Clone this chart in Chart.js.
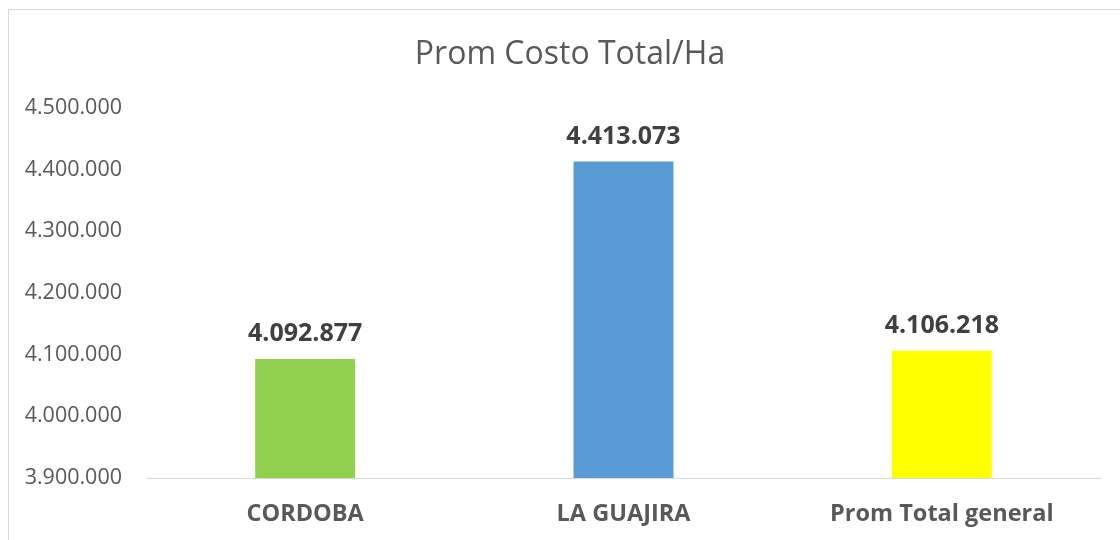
<!DOCTYPE html>
<html>
<head>
<meta charset="utf-8">
<script src="https://cdn.jsdelivr.net/npm/chart.js@4/dist/chart.umd.min.js"></script>
<style>
  html, body { margin: 0; padding: 0; background: #fff; overflow: hidden; }
  .frame { position: absolute; left: 8px; top: 9px; width: 1200px; height: 600px; border: 1px solid #d9d9d9; }
  .wrap { position: absolute; left: 0; top: 0; width: 1120px; height: 540px; }
</style>
</head>
<body>
<div class="frame"></div>
<div class="wrap"><canvas id="chart" width="1120" height="540"></canvas></div>
<script>
const categories = ['CORDOBA', 'LA GUAJIRA', 'Prom Total general'];
const costValues = [4092877, 4413073, 4106218];
const barColors = ['#92D050', '#5B9BD5', '#FFFF00'];
const titleText = 'Prom Costo Total/Ha';
const yMin = 3900000;
const yMax = 4500000;
const yStep = 100000;

// thousands with dots, like the spanish excel format
function fmt(v) {
    return Math.round(v).toString().replace(/\B(?=(\d{3})+(?!\d))/g, '.');
}

// draws the value above each bar
const valueLabels = {
    id: 'valueLabels',
    afterDatasetsDraw(chart) {
        const ctx = chart.ctx;
        const meta = chart.getDatasetMeta(0);
        ctx.save();
        ctx.font = 'bold 25px "Open Sans"';
        ctx.fillStyle = '#404040';
        ctx.textAlign = 'center';
        ctx.textBaseline = 'alphabetic';
        meta.data.forEach((bar, i) => {
            ctx.fillText(fmt(chart.data.datasets[0].data[i]), bar.x, bar.y - 18);
        });
        ctx.restore();
    }
};

// title centred on the frame, not on the plot
const frameTitle = {
    id: 'frameTitle',
    afterDraw(chart) {
        const ctx = chart.ctx;
        ctx.save();
        ctx.font = '32px "Open Sans"';
        ctx.fillStyle = '#595959';
        ctx.textAlign = 'center';
        ctx.textBaseline = 'middle';
        ctx.fillText(titleText, 570, 55);
        ctx.restore();
    }
};

const ctx = document.getElementById('chart').getContext('2d');
const chart = new Chart(ctx, {
    type: 'bar',
    data: {
        labels: categories,
        datasets: [{
            label: titleText,
            data: costValues,
            backgroundColor: barColors,
            borderWidth: 0,
            barPercentage: 0.314,
            categoryPercentage: 1
        }]
    },
    options: {
        responsive: false,
        animation: false,
        layout: { padding: { left: 0, right: 19, top: 108, bottom: 12 } },
        scales: {
            x: {
                grid: { display: false, drawTicks: false },
                border: { display: true, color: '#d9d9d9', width: 1 },
                ticks: {
                    color: '#595959',
                    font: { family: 'Open Sans', size: 23.5, weight: 'bold' },
                    padding: 22,
                    maxRotation: 0
                },
                afterFit(scale) { scale.height = 50; }
            },
            y: {
                min: yMin,
                max: yMax,
                grid: { display: false, drawTicks: false },
                border: { display: false },
                ticks: {
                    stepSize: yStep,
                    color: '#595959',
                    font: { family: 'Open Sans', size: 21.5 },
                    padding: 24,
                    callback: v => fmt(v)
                },
                afterFit(scale) { scale.width = 146; }
            }
        },
        plugins: {
            legend: { display: false },
            tooltip: { enabled: false },
            title: { display: false }
        }
    },
    plugins: [valueLabels, frameTitle]
});
</script>
</body>
</html>
